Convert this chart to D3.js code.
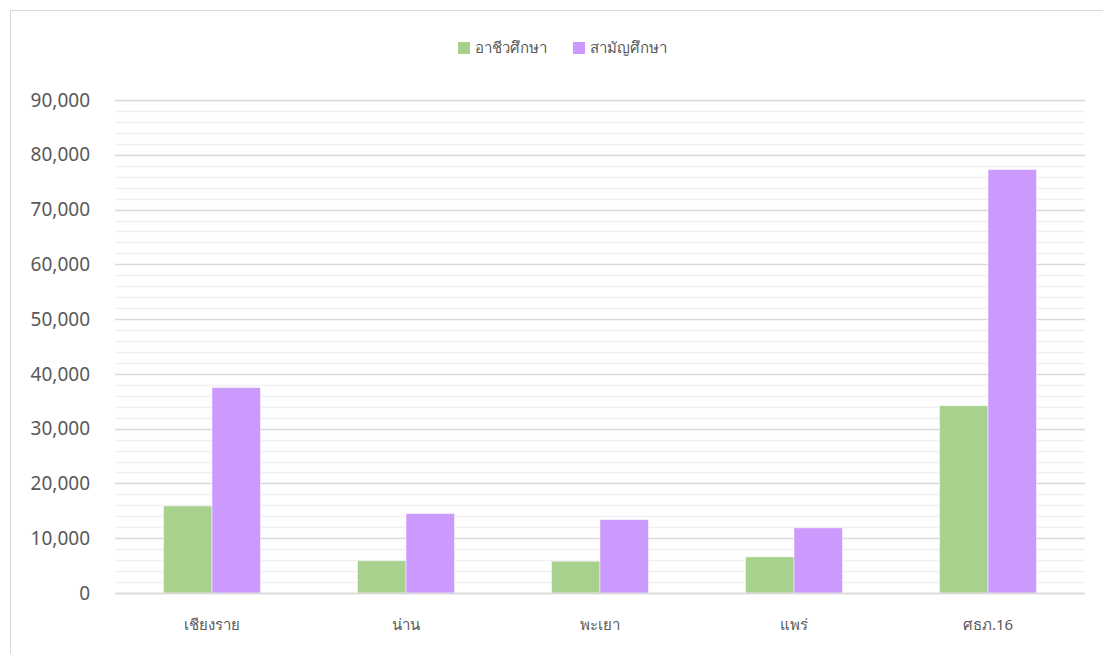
<!DOCTYPE html>
<html>
<head>
<meta charset="utf-8">
<script src="https://cdn.jsdelivr.net/npm/d3@7"></script>
<style>
  body { margin: 0; background: #fff; }
  text { font-family: "Noto Sans", "DejaVu Sans", sans-serif; }
</style>
</head>
<body>
<svg id="chart" width="1103" height="654"></svg>
<script>
// ข้อมูล
var categories = ["เชียงราย", "น่าน", "พะเยา", "แพร่", "ศธภ.16"];
var seriesNames = ["อาชีวศึกษา", "สามัญศึกษา"];
var vocational = [15900, 5900, 5800, 6600, 34200];
var general = [37500, 14500, 13400, 11900, 77300];
var yTicks = [0, 10000, 20000, 30000, 40000, 50000, 60000, 70000, 80000, 90000];
var colors = ["#A9D18E", "#CC99FF"];

var svg = d3.select("#chart");

// กรอบนอก
svg.append("rect")
    .attr("x", 10.5).attr("y", 10.5)
    .attr("width", 1110).attr("height", 660)
    .attr("fill", "none").attr("stroke", "#d9d9d9");

var plotLeft = 115, plotRight = 1085, plotTop = 100, plotBottom = 593;

var x0 = d3.scaleBand().domain(categories).range([plotLeft, plotRight]).paddingInner(0.5).paddingOuter(0.25);
var x1 = d3.scaleBand().domain(seriesNames).range([0, x0.bandwidth()]);
var y = d3.scaleLinear().domain([0, 90000]).range([plotBottom, plotTop]);

// เส้นกริดย่อย
svg.append("g").selectAll("line")
    .data(d3.range(0, 90001, 2000).filter(function(v) { return v % 10000 != 0; }))
    .enter().append("line")
    .attr("x1", plotLeft).attr("x2", plotRight)
    .attr("y1", function(d) { return Math.round(y(d)) + 0.5; })
    .attr("y2", function(d) { return Math.round(y(d)) + 0.5; })
    .attr("stroke", "#f0f0f0").attr("stroke-width", 1.5);

// เส้นกริดหลัก
svg.append("g").selectAll("line")
    .data(yTicks)
    .enter().append("line")
    .attr("x1", plotLeft).attr("x2", plotRight)
    .attr("y1", function(d) { return Math.round(y(d)) + 0.5; })
    .attr("y2", function(d) { return Math.round(y(d)) + 0.5; })
    .attr("stroke", "#d9d9d9").attr("stroke-width", 1.5);

// แกน y
svg.append("g").selectAll("text")
    .data(yTicks)
    .enter().append("text")
    .attr("x", 90)
    .attr("y", function(d) { return y(d); })
    .attr("dy", "0.35em")
    .attr("text-anchor", "end")
    .attr("font-size", 19)
    .attr("fill", "#595959")
    .text(function(d) { return d3.format(",")(d); });

// แท่ง
var rows = categories.map(function(c, i) {
  return { cat: c, values: [vocational[i], general[i]] };
});

var groups = svg.append("g").selectAll("g")
    .data(rows)
    .enter().append("g")
    .attr("transform", function(d) { return "translate(" + x0(d.cat) + ",0)"; });

groups.selectAll("rect")
    .data(function(d) { return d.values.map(function(v, j) { return { name: seriesNames[j], value: v, j: j }; }); })
    .enter().append("rect")
    .attr("x", function(d) { return x1(d.name); })
    .attr("y", function(d) { return y(d.value); })
    .attr("width", x1.bandwidth())
    .attr("height", function(d) { return y(0) - y(d.value); })
    .attr("fill", function(d) { return colors[d.j]; })
    .attr("stroke", "#ffffff").attr("stroke-opacity", 0.5).attr("stroke-width", 1);

// แกน x
svg.append("line")
    .attr("x1", plotLeft).attr("x2", plotRight)
    .attr("y1", plotBottom + 0.5).attr("y2", plotBottom + 0.5)
    .attr("stroke", "#d9d9d9").attr("stroke-width", 1.5);

svg.append("g").selectAll("text")
    .data(categories)
    .enter().append("text")
    .attr("x", function(d) { return x0(d) + x0.bandwidth() / 2; })
    .attr("y", 630)
    .attr("text-anchor", "middle")
    .attr("font-size", 15)
    .attr("fill", "#595959")
    .text(function(d) { return d; });

// คำอธิบาย
var legendX = [458, 573];
var legend = svg.append("g").selectAll("g")
    .data(seriesNames)
    .enter().append("g")
    .attr("transform", function(d, i) { return "translate(" + legendX[i] + ",42)"; });

legend.append("rect")
    .attr("width", 12).attr("height", 12)
    .attr("fill", function(d, i) { return colors[i]; });

legend.append("text")
    .attr("x", 17).attr("y", 6)
    .attr("dy", "0.35em")
    .attr("font-size", 15)
    .attr("fill", "#595959")
    .text(function(d) { return d; });
</script>
</body>
</html>
